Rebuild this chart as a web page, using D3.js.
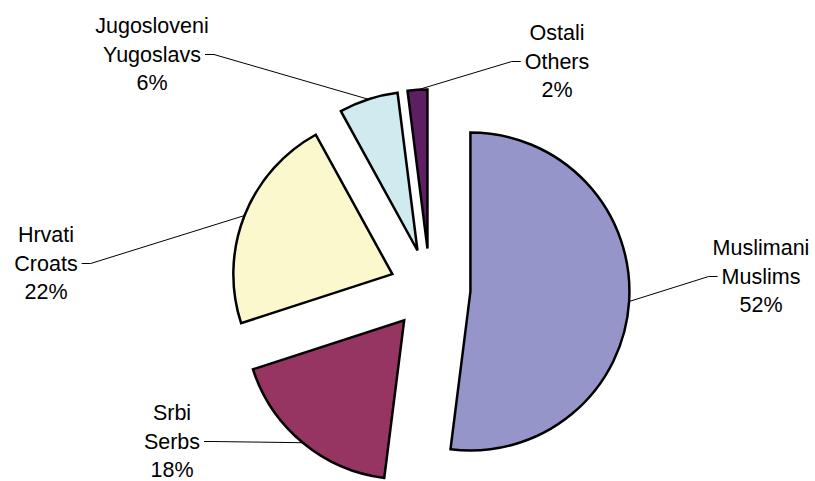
<!DOCTYPE html>
<html>
<head>
<meta charset="utf-8">
<script src="https://cdn.jsdelivr.net/npm/d3@7"></script>
<style>
  body { margin: 0; background: #fff; }
  text { font-family: "Liberation Sans", Arial, sans-serif; font-size: 21.5px; fill: #000; }
</style>
</head>
<body>
<div id="chart"></div>
<script>
// ethnic structure, exploded pie
var names = ["Muslimani", "Srbi", "Hrvati", "Jugosloveni", "Ostali"];
var namesEn = ["Muslims", "Serbs", "Croats", "Yugoslavs", "Others"];
var shares = [52, 18, 22, 6, 2];
var colors = ["#9595c9", "#963462", "#faf8cc", "#d0ebf0", "#5e1e62"];

// label layout: centre x and first baseline of each 3-line label
var labelAt = [[761, 255], [172, 420], [46, 242], [152, 33], [557, 40]];

var width = 815, height = 481,
  cx = 430, cy = 289,
  radius = 159, explode = 40.5, lineH = 28.5;

var data = shares.map((v, i) => ({name: names[i], en: namesEn[i], value: v, color: colors[i], pos: labelAt[i]}));

var pie = d3.pie().sort(null).value(d => d.value);
var arc = d3.arc().innerRadius(0).outerRadius(radius);

var svg = d3.select("#chart").append("svg")
  .attr("width", width)
  .attr("height", height);

var g = svg.append("g")
  .attr("transform", "translate(" + cx + "," + cy + ")");

var arcs = pie(data);

function offset(d, r) {
  var m = (d.startAngle + d.endAngle) / 2;
  return [Math.sin(m) * r, -Math.cos(m) * r];
}

g.selectAll("path.slice")
  .data(arcs)
  .enter().append("path")
    .attr("class", "slice")
    .attr("transform", d => "translate(" + offset(d, explode) + ")")
    .attr("d", arc)
    .style("fill", d => d.data.color)
    .attr("stroke", "#000")
    .attr("stroke-width", 2.5)
    .attr("stroke-linejoin", "miter");

// labels
var labels = svg.selectAll("g.label")
  .data(arcs)
  .enter().append("g")
    .attr("class", "label");

labels.each(function(d) {
  var lg = d3.select(this);
  var p = d.data.pos;
  var lines = [d.data.name, d.data.en, d.data.value + "%"];
  var second;
  lines.forEach((t, i) => {
    var el = lg.append("text")
      .attr("x", p[0])
      .attr("y", p[1] + i * lineH)
      .style("text-anchor", "middle")
      .text(t);
    if (i == 1) second = el;
  });

  // leader line: arc edge at mid angle -> knee -> label
  var e = offset(d, explode + radius);
  var ax = cx + e[0], ay = cy + e[1];
  var w = second.node().getComputedTextLength();
  var ly = p[1] + lineH - 7;
  var side = ax > p[0] ? 1 : -1;
  var tx = p[0] + side * (w / 2 + 4);
  var kx = tx + side * 9;

  lg.append("polyline")
    .attr("points", [[ax, ay], [kx, ly], [tx, ly]].map(q => q.join(",")).join(" "))
    .attr("fill", "none")
    .attr("stroke", "#000")
    .attr("stroke-width", 1);
});
</script>
</body>
</html>
